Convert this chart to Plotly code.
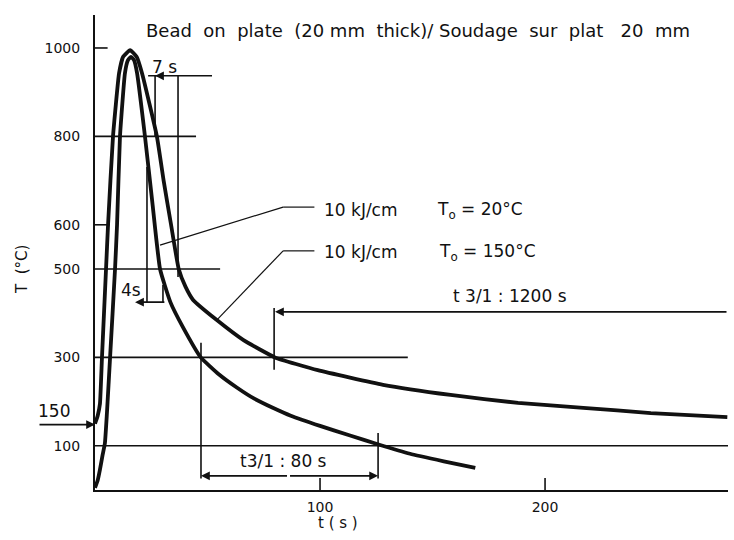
import plotly.graph_objects as go

# ---- data ----
t_20 = [0, 1.2, 2.2, 3.4, 4.4, 5.3, 6.7, 8.9, 9.8, 11.1, 13.3, 14.6, 16.0, 17.4, 18.7, 22.2,
        25.5, 28.9, 33.5, 39, 47, 55, 63, 71, 79, 87, 100, 113, 126, 140, 155, 169]
T_20 = [5, 22, 46, 80, 106, 174, 300, 500, 600, 800, 943, 972, 980, 972, 943, 800,
        650, 500, 425, 369, 300, 262, 232, 206, 186, 168, 145, 124, 103, 82, 65, 50]

t_150 = [0, 1.2, 2.2, 3.1, 4.9, 5.8, 8.0, 10.7, 12.5, 15.6, 18.5, 20.9, 27.5,
         30.5, 33.8, 37.2, 40.2, 43.6, 54, 66, 80, 99, 128, 158, 188, 217, 247, 281]
T_150 = [150, 168, 195, 300, 500, 600, 800, 943, 980, 995, 980, 943, 800,
         700, 600, 500, 460, 430, 385, 339, 300, 271, 238, 215, 197, 186, 174, 165]

ref_levels = [800, 500, 300, 100]          # horizontal construction lines
ytick_vals = [100, 300, 500, 600, 800, 1000]
ytick_text = ["100", "300", "500", "600", "800", "1000"]
xtick_vals = [100, 200]
xtick_text = ["100", "200"]

title_text = "Bead  on  plate  (20 mm  thick)/ Soudage  sur  plat   20  mm"
label1 = ("10 kJ/cm", "T<sub>o</sub> = 20°C")
label2 = ("10 kJ/cm", "T<sub>o</sub> = 150°C")

# ---- figure ----
FONT = "DejaVu Sans"
INK = "#111111"
XMAX = 281.3
YMAX = 1074.6
L, R, T, B = 95, 6, 15, 50
W, H = 734, 540
PW, PH = W - L - R, H - T - B


def px(x):
    return (x - L) / PW


def py(y):
    return (H - B - y) / PH


fig = go.Figure()
for tx, ty in [(t_150, T_150), (t_20, T_20)]:
    fig.add_trace(go.Scatter(x=tx, y=ty, mode="lines",
                             line=dict(color=INK, width=3.8, shape="spline", smoothing=0.4),
                             hoverinfo="skip", showlegend=False))


def seg(x0, y0, x1, y1, w=1.6):
    fig.add_shape(type="line", xref="x", yref="y", x0=x0, y0=y0, x1=x1, y1=y1,
                  line=dict(color=INK, width=w), layer="above")


# horizontal construction lines
ref_ext = {800: 44.9, 500: 55.6, 300: 139.0, 100: XMAX}
for lv in ref_levels:
    seg(0, lv, ref_ext[lv], lv)
# short ticks at 1000 and 600
seg(0, 1000, 5.6, 1000)
seg(0, 600, 6.5, 600)
# x ticks
for xv in xtick_vals:
    seg(xv, 0, xv, 27)

# 7 s dimension
seg(23.6, 937, 52.0, 937)
seg(26.7, 937, 26.7, 800)
seg(36.9, 937, 36.9, 482)
# 4 s dimension
seg(23.1, 731, 23.1, 425)
seg(30.2, 464, 30.2, 425)
# 1200 s
seg(79.6, 412, 79.6, 272)
# 80 s
seg(47.1, 333, 47.1, 26)
seg(125.8, 129, 125.8, 26)
# leaders
seg(28.9, 554, 83.6, 640, 1.2)
seg(83.6, 640, 97.5, 640, 1.2)
seg(54.2, 385, 83.6, 541, 1.2)
seg(83.6, 541, 97.5, 541, 1.2)


def arrow(xh, yh, xt, yt):
    fig.add_annotation(x=xh, y=yh, ax=xt, ay=yt, xref="x", yref="y", axref="x", ayref="y",
                       text="", showarrow=True, arrowhead=2, arrowsize=1.1,
                       arrowwidth=1.6, arrowcolor=INK)


arrow(17.8, 425, 31.5, 425)       # 4 s
arrow(80.0, 403, XMAX, 403)       # 1200 s
arrow(47.1, 32, 86.0, 32)         # 80 s left
arrow(125.8, 32, 86.0, 32)        # 80 s right
arrow(26.7, 937, 30.0, 937)       # 7 s small

# 150 arrow outside the axes
fig.add_annotation(x=0, y=148, xref="x", yref="y", ax=-57, ay=0, text="", showarrow=True,
                   arrowhead=2, arrowsize=1.1, arrowwidth=1.6, arrowcolor=INK)


def txt(x, y, s, size=17, xanchor="left", xref="x", yref="y", angle=0):
    fig.add_annotation(x=x, y=y, xref=xref, yref=yref, text=s, showarrow=False,
                       xanchor=xanchor, yanchor="middle", textangle=angle,
                       font=dict(family=FONT, size=size, color=INK))


txt(px(144), py(31), title_text, size=18, xref="paper", yref="paper")
txt(31.0, 957, "7 s", xanchor="center")
txt(16.0, 452, "4s", xanchor="center")
txt(100.9, 633, label1[0])
txt(151.0, 633, label1[1])
txt(100.9, 538, label2[0])
txt(152.0, 538, label2[1])
txt(184.5, 439, "t 3/1 : 1200 s", xanchor="center")
txt(83.6, 66, "t3/1 : 80 s", xanchor="center")
txt(px(54), py(411), "150", xanchor="center", xref="paper", yref="paper")
txt(px(22), py(270), "T  (°C)", size=15, xanchor="center", xref="paper", yref="paper", angle=-90)
txt(px(338), py(523), "t ( s )", size=15, xanchor="center", xref="paper", yref="paper")

fig.update_layout(
    width=W, height=H,
    margin=dict(l=L, r=R, t=T, b=B),
    paper_bgcolor="white", plot_bgcolor="white",
    font=dict(family=FONT, size=14, color=INK),
    xaxis=dict(range=[0, XMAX], tickvals=xtick_vals, ticktext=xtick_text, ticks="",
               showgrid=False, zeroline=False, showline=True, linecolor=INK, linewidth=2,
               ticklabelstandoff=3, tickfont=dict(size=14)),
    yaxis=dict(range=[0, YMAX], tickvals=ytick_vals, ticktext=ytick_text, ticks="",
               showgrid=False, zeroline=False, showline=True, linecolor=INK, linewidth=2,
               ticklabelstandoff=10, tickfont=dict(size=14)),
)

fig.write_html("out.html")
